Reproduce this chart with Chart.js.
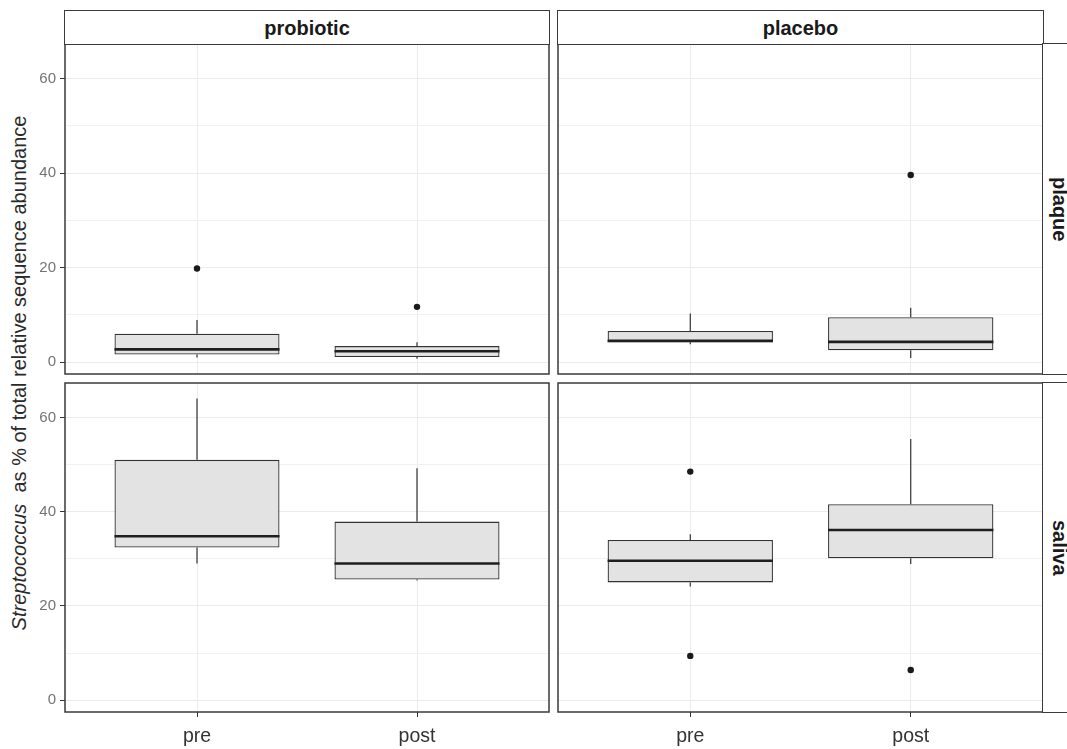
<!DOCTYPE html>
<html>
<head>
<meta charset="utf-8">
<script src="https://cdn.jsdelivr.net/npm/chart.js@4"></script>
<style>
  body { margin: 0; background: #fff; }
  #page { position: relative; width: 1067px; height: 749px; overflow: hidden; background: #fff;
          font-family: 'Liberation Sans', Arial, sans-serif; }
  canvas { position: absolute; }
  .strip { position: absolute; box-sizing: border-box; border: 1.5px solid #3a3a3a; background: #fff;
           display: flex; align-items: center; justify-content: center;
           font-weight: bold; font-size: 20px; color: #1a1a1a; }
  .strip.right { writing-mode: vertical-rl; }
  #ytitle { position: absolute; left: 19px; top: 373px; transform: translate(-50%, -50%) rotate(-90deg);
            white-space: nowrap; font-size: 20px; color: #2a2a2a; }
</style>
</head>
<body>
<div id="page">
  <div id="ytitle"><i>Streptococcus</i>&nbsp; as % of total relative sequence abundance</div>
</div>
<script>
// facets
const GROUPS = ['probiotic', 'placebo'];   // columns
const SITES = ['plaque', 'saliva'];        // rows
const TIMES = ['pre', 'post'];             // x categories

const Y_TICKS = [0, 20, 40, 60];
const Y_MINOR = [10, 30, 50];
const Y_MIN = -2.5;
const Y_MAX = 67.3;

// box stats, panel order: plaque/probiotic, plaque/placebo, saliva/probiotic, saliva/placebo
// each entry is [pre, post]
const lowerWhisker = [[1.0, 0.7], [3.8, 0.9], [29.0, 25.4], [24.1, 28.9]];
const q1 = [[1.6, 1.1], [4.2, 2.5], [32.4, 25.6], [25.0, 30.1]];
const median = [[2.7, 2.3], [4.5, 4.3], [34.8, 29.0], [29.6, 36.1]];
const q3 = [[6.0, 3.4], [6.6, 9.5], [51.0, 37.9], [34.0, 41.6]];
const upperWhisker = [[8.9, 4.2], [10.3, 11.5], [64.0, 49.2], [35.2, 55.4]];
const outliers = [[[19.8], [11.7]], [[], [39.6]], [[], []], [[48.5, 9.4], [6.4]]];

// layout (page pixels)
const COL_X = [[65, 549], [558, 1043]];
const ROW_Y = [[44, 374], [383, 712]];
const PAD_L = 50, PAD_T = 16, PAD_R = 12, PAD_B = 45;
const BOX_HALF = 0.375;
const GRID = '#ebebeb';
const INK = '#333';

const page = document.getElementById('page');

const panelBorder = {
    id: 'panelBorder',
    afterDraw(chart) {
        const a = chart.chartArea;
        const ctx = chart.ctx;
        ctx.save();
        ctx.strokeStyle = '#3a3a3a';
        ctx.lineWidth = 1.5;
        ctx.strokeRect(a.left, a.top, a.right - a.left, a.bottom - a.top);
        ctx.restore();
    }
};

function buildPanel(r, c) {
    const p = r * 2 + c;
    const [L, R] = COL_X[c];
    const [T, B] = ROW_Y[r];
    const yW = c === 0 ? 35 : 0;
    const xH = r === 1 ? 40 : 0;

    const canvas = document.createElement('canvas');
    canvas.width = R - L + PAD_L + PAD_R;
    canvas.height = B - T + PAD_T + PAD_B;
    canvas.style.left = (L - PAD_L) + 'px';
    canvas.style.top = (T - PAD_T) + 'px';
    page.appendChild(canvas);

    const boxes = [], whiskers = [], medians = [], points = [];
    TIMES.forEach((t, i) => {
        const x = i + 1;
        boxes.push({ x: x, y: [q1[p][i], q3[p][i]] });
        whiskers.push({ x: x, y: lowerWhisker[p][i] }, { x: x, y: q1[p][i] }, { x: x, y: null },
                      { x: x, y: q3[p][i] }, { x: x, y: upperWhisker[p][i] }, { x: x, y: null });
        medians.push({ x: x - BOX_HALF, y: median[p][i] }, { x: x + BOX_HALF, y: median[p][i] },
                     { x: x + BOX_HALF, y: null });
        outliers[p][i].forEach(v => points.push({ x: x, y: v }));
    });

    const allY = Y_TICKS.concat(Y_MINOR).sort((a, b) => a - b);

    new Chart(canvas, {
        type: 'bar',
        data: {
            datasets: [
                {
                    type: 'bar', data: boxes, order: 4,
                    backgroundColor: '#e3e3e3', borderColor: INK, borderWidth: 1.3,
                    borderSkipped: false, barPercentage: 0.75, categoryPercentage: 1
                },
                {
                    type: 'line', data: whiskers, order: 3, spanGaps: false,
                    borderColor: INK, borderWidth: 1.2, pointRadius: 0, tension: 0
                },
                {
                    type: 'line', data: medians, order: 2, spanGaps: false,
                    borderColor: '#1f1f1f', borderWidth: 2.6, pointRadius: 0, tension: 0
                },
                {
                    type: 'scatter', data: points, order: 1,
                    backgroundColor: '#1a1a1a', borderWidth: 0, pointRadius: 3.2
                }
            ]
        },
        options: {
            responsive: false,
            animation: false,
            events: [],
            layout: { padding: { left: PAD_L - yW, top: PAD_T, right: PAD_R, bottom: PAD_B - xH } },
            plugins: { legend: { display: false }, tooltip: { enabled: false } },
            scales: {
                x: {
                    type: 'linear', min: 0.4, max: 2.6, offset: false,
                    afterBuildTicks: s => { s.ticks = TIMES.map((t, i) => ({ value: i + 1 })); },
                    afterFit: s => { s.height = xH; },
                    grid: { offset: false, color: GRID, lineWidth: 1, drawTicks: r === 1,
                            tickLength: 5, tickColor: INK },
                    border: { display: false },
                    ticks: {
                        display: r === 1, padding: 8, color: INK,
                        font: { family: "'Liberation Sans', Arial, sans-serif", size: 19.5 },
                        callback: v => TIMES[v - 1]
                    }
                },
                y: {
                    type: 'linear', min: Y_MIN, max: Y_MAX,
                    afterBuildTicks: s => { s.ticks = allY.map(v => ({ value: v })); },
                    afterFit: s => { s.width = yW; },
                    grid: {
                        color: ctx => Y_TICKS.includes(ctx.tick.value) ? GRID : '#f1f1f1',
                        lineWidth: 1,
                        drawTicks: c === 0, tickLength: 5,
                        tickColor: ctx => Y_TICKS.includes(ctx.tick.value) ? INK : 'rgba(0,0,0,0)'
                    },
                    border: { display: false },
                    ticks: {
                        display: c === 0, padding: 4, color: '#737373',
                        font: { family: "'Liberation Sans', Arial, sans-serif", size: 15 },
                        callback: v => Y_TICKS.includes(v) ? String(v) : ''
                    }
                }
            }
        },
        plugins: [panelBorder]
    });
}

SITES.forEach((s, r) => GROUPS.forEach((g, c) => buildPanel(r, c)));

// strips
GROUPS.forEach((g, c) => {
    const d = document.createElement('div');
    d.className = 'strip';
    d.style.left = (COL_X[c][0] - 0.75) + 'px';
    d.style.top = '10px';
    d.style.width = (COL_X[c][1] - COL_X[c][0] + 1.5) + 'px';
    d.style.height = (ROW_Y[0][0] - 10 + 0.75) + 'px';
    d.style.paddingTop = '3px';
    d.textContent = g;
    page.appendChild(d);
});
SITES.forEach((s, r) => {
    const d = document.createElement('div');
    d.className = 'strip right';
    d.style.left = (COL_X[1][1] - 0.75) + 'px';
    d.style.top = (ROW_Y[r][0] - 0.75) + 'px';
    d.style.width = '34px';
    d.style.height = (ROW_Y[r][1] - ROW_Y[r][0] + 1.5) + 'px';
    d.textContent = s;
    page.appendChild(d);
});
</script>
</body>
</html>
